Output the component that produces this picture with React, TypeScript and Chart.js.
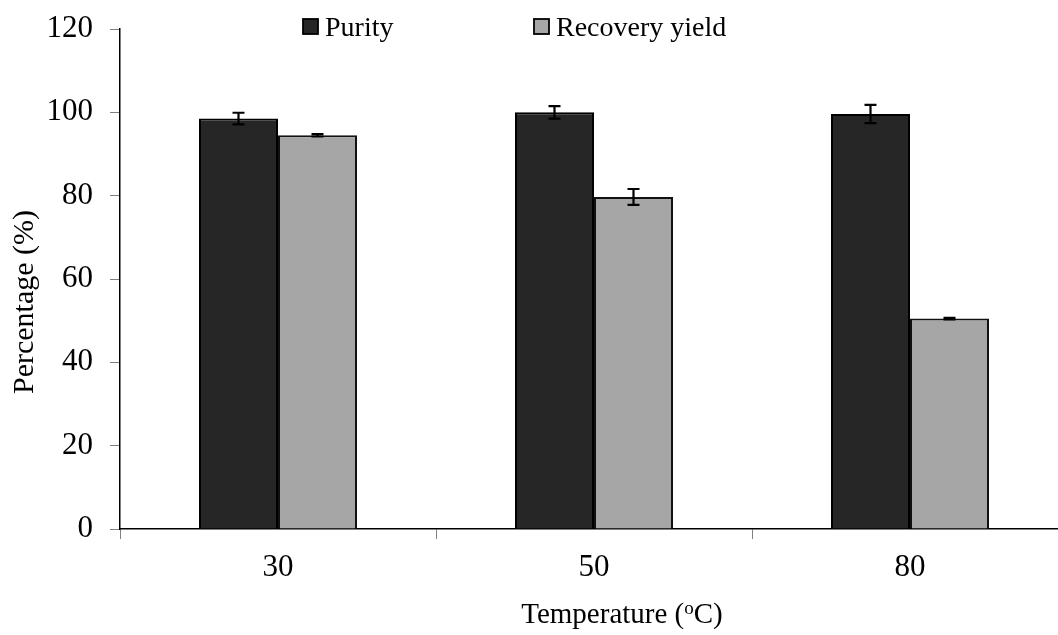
import React, { useEffect, useRef } from "react";
import { Chart, registerables } from "chart.js";

Chart.register(...registerables);

const categories = ["30", "50", "80"];
const purity = [98.5, 100.0, 99.6];
const purityErr = [1.4, 1.5, 2.2];
const recovery = [94.5, 79.7, 50.5];
const recoveryErr = [0.3, 1.9, 0.2];
const seriesNames = ["Purity", "Recovery yield"];
const yTicksMax = 120;
const yTickStep = 20;
const xTitle = "Temperature (";
const xTitleSup = "o";
const xTitleEnd = "C)";
const yTitle = "Percentage (%)";

const FONT = "'Liberation Serif', 'Times New Roman', serif";
const DARK = "#262626";
const LIGHT = "#a6a6a6";

export default function App() {
  const ref = useRef<HTMLCanvasElement | null>(null);

  useEffect(() => {
    if (!ref.current) return;
    const errors = [purityErr, recoveryErr];

    const errorBars = {
      id: "errorBars",
      afterDatasetsDraw(chart: any) {
        const ctx = chart.ctx;
        const yScale = chart.scales.y;
        ctx.save();
        ctx.strokeStyle = "#000";
        ctx.lineWidth = 2.2;
        chart.data.datasets.forEach((ds: any, i: number) => {
          const meta = chart.getDatasetMeta(i);
          meta.data.forEach((el: any, j: number) => {
            const v = ds.data[j];
            const e = errors[i][j];
            const x = el.x;
            const yt = yScale.getPixelForValue(v + e);
            const yb = yScale.getPixelForValue(v - e);
            ctx.beginPath();
            ctx.moveTo(x, yt);
            ctx.lineTo(x, yb);
            ctx.moveTo(x - 6, yt);
            ctx.lineTo(x + 6, yt);
            ctx.moveTo(x - 6, yb);
            ctx.lineTo(x + 6, yb);
            ctx.stroke();
          });
        });
        ctx.restore();
      },
    };

    const decorations = {
      id: "decorations",
      afterDraw(chart: any) {
        const ctx = chart.ctx;
        ctx.save();
        ctx.fillStyle = "#000";
        // legend
        ctx.font = `28px ${FONT}`;
        ctx.textBaseline = "alphabetic";
        ctx.textAlign = "left";
        const items = [
          { bx: 303, tx: 325, color: DARK },
          { bx: 534, tx: 556, color: LIGHT },
        ];
        items.forEach((it, i) => {
          ctx.fillStyle = it.color;
          ctx.fillRect(it.bx, 19, 15, 15);
          ctx.strokeStyle = "#000";
          ctx.lineWidth = 1.8;
          ctx.strokeRect(it.bx, 19, 15, 15);
          ctx.fillStyle = "#000";
          ctx.fillText(chart.data.datasets[i].label, it.tx, 36);
        });
        // x title
        ctx.font = `29px ${FONT}`;
        const w1 = ctx.measureText(xTitle).width;
        ctx.font = `19px ${FONT}`;
        const w2 = ctx.measureText(xTitleSup).width;
        ctx.font = `29px ${FONT}`;
        const w3 = ctx.measureText(xTitleEnd).width;
        const total = w1 + w2 + w3;
        const x0 = 622 - total / 2;
        const base = 623;
        ctx.fillText(xTitle, x0, base);
        ctx.font = `19px ${FONT}`;
        ctx.fillText(xTitleSup, x0 + w1, base - 9);
        ctx.font = `29px ${FONT}`;
        ctx.fillText(xTitleEnd, x0 + w1 + w2, base);
        // y title
        ctx.font = `30px ${FONT}`;
        ctx.translate(33, 302);
        ctx.rotate(-Math.PI / 2);
        ctx.textAlign = "center";
        ctx.fillText(yTitle, 0, 0);
        ctx.restore();
      },
    };

    const chart = new Chart(ref.current, {
      type: "bar",
      data: {
        labels: categories,
        datasets: [
          {
            label: seriesNames[0],
            data: purity,
            backgroundColor: DARK,
            borderColor: "#000",
            borderWidth: 2,
            categoryPercentage: 0.5,
            barPercentage: 1.0,
          },
          {
            label: seriesNames[1],
            data: recovery,
            backgroundColor: LIGHT,
            borderColor: "#111",
            borderWidth: 2,
            categoryPercentage: 0.5,
            barPercentage: 1.0,
          },
        ],
      },
      options: {
        responsive: false,
        animation: false,
        devicePixelRatio: 1,
        layout: { padding: { left: 0, top: 29, right: 12, bottom: 0 } },
        plugins: {
          legend: { display: false },
          tooltip: { enabled: false },
          title: { display: false },
        },
        scales: {
          x: {
            offset: true,
            grid: {
              display: true,
              drawOnChartArea: false,
              drawTicks: true,
              tickLength: 10,
              color: "#808080",
              offset: true,
            },
            border: { display: true, color: "#000", width: 1.5 },
            ticks: {
              color: "#000",
              font: { family: FONT, size: 31 },
              padding: 10,
              maxRotation: 0,
            },
            afterFit: (s: any) => {
              s.height = 106;
              s.paddingLeft = 0;
              s.paddingRight = 0;
            },
          },
          y: {
            min: 0,
            max: yTicksMax,
            grid: {
              display: true,
              drawOnChartArea: false,
              drawTicks: true,
              tickLength: 10,
              color: "#808080",
            },
            border: { display: true, color: "#000", width: 1.5 },
            ticks: {
              stepSize: yTickStep,
              color: "#000",
              font: { family: FONT, size: 31 },
              padding: 17,
            },
            afterFit: (s: any) => {
              s.width = 120;
              s.paddingTop = 0;
              s.paddingBottom = 0;
            },
          },
        },
      },
      plugins: [errorBars, decorations],
    });
    return () => chart.destroy();
  }, []);

  return (
    <div
      style={{
        position: "absolute",
        left: 0,
        top: 0,
        width: 1058,
        height: 635,
        overflow: "hidden",
        background: "#fff",
      }}
    >
      <canvas ref={ref} width={1080} height={635} style={{ display: "block" }} />
    </div>
  );
}
